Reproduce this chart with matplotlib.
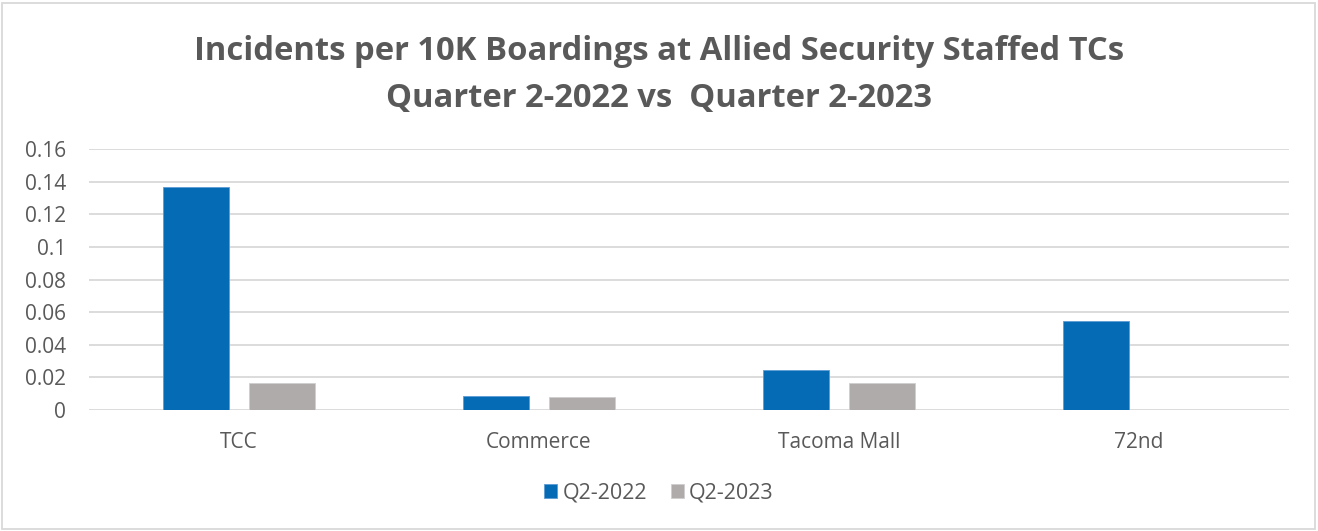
import numpy as np
import matplotlib

matplotlib.use("Agg")
import matplotlib.pyplot as plt
from matplotlib.patches import Rectangle

categories = ["TCC", "Commerce", "Tacoma Mall", "72nd"]
q2_2022 = [0.137, 0.0085, 0.0247, 0.0546]
q2_2023 = [0.0166, 0.0082, 0.0166, 0.0]
series_names = ["Q2-2022", "Q2-2023"]
yticks = [0, 0.02, 0.04, 0.06, 0.08, 0.1, 0.12, 0.14, 0.16]
ytick_labels = ["0", "0.02", "0.04", "0.06", "0.08", "0.1", "0.12", "0.14", "0.16"]

BLUE = "#066bb5"
GRAY = "#afabab"
TEXT = "#595959"

plt.rcParams["font.family"] = ["Open Sans", "DejaVu Sans"]

fig = plt.figure(figsize=(13.18, 5.31), dpi=100)
ax = fig.add_axes([89 / 1318, 1 - 410 / 531, 1200 / 1318, 261 / 531])

x = np.arange(len(categories))
w = 0.22
off = 0.142
ax.bar(x - off, q2_2022, w, color=BLUE, edgecolor="#5b9bd5", linewidth=0.6, label=series_names[0], zorder=3)
ax.bar(x + off, q2_2023, w, color=GRAY, edgecolor="#d0cece", linewidth=0.6, label=series_names[1], zorder=3)

ax.set_xlim(-0.5, len(categories) - 0.5)
ax.set_ylim(0, 0.16)
ax.set_yticks(yticks)
ax.set_yticklabels(ytick_labels)
ax.set_xticks(x)
ax.set_xticklabels(categories)
ax.tick_params(axis="both", length=0, labelsize=15, colors=TEXT)
ax.tick_params(axis="y", pad=16.5)
ax.tick_params(axis="x", pad=16)
ax.grid(axis="y", color="#d9d9d9", linewidth=1.3, zorder=0)
for s in ax.spines.values():
    s.set_visible(False)

fig.text(0.5, 1 - 51 / 531, "Incidents per 10K Boardings at Allied Security Staffed TCs",
         ha="center", va="center", fontsize=23.6, fontweight="bold", color=TEXT)
fig.text(0.5, 1 - 98 / 531, "Quarter 2-2022 vs  Quarter 2-2023",
         ha="center", va="center", fontsize=23.6, fontweight="bold", color=TEXT)

fig.legend(loc="center", bbox_to_anchor=(0.5, 1 - 493 / 531), ncol=2, frameon=False,
           fontsize=15.5, labelcolor=TEXT, handlelength=0.6, handleheight=0.6,
           handletextpad=0.25, columnspacing=1.1)

fig.patches.append(Rectangle((2 / 1318, 2 / 531), 1 - 5 / 1318, 1 - 5 / 531, transform=fig.transFigure,
                             fill=False, edgecolor="#d9d9d9", linewidth=1.3))

fig.savefig("out.png", dpi=100)
